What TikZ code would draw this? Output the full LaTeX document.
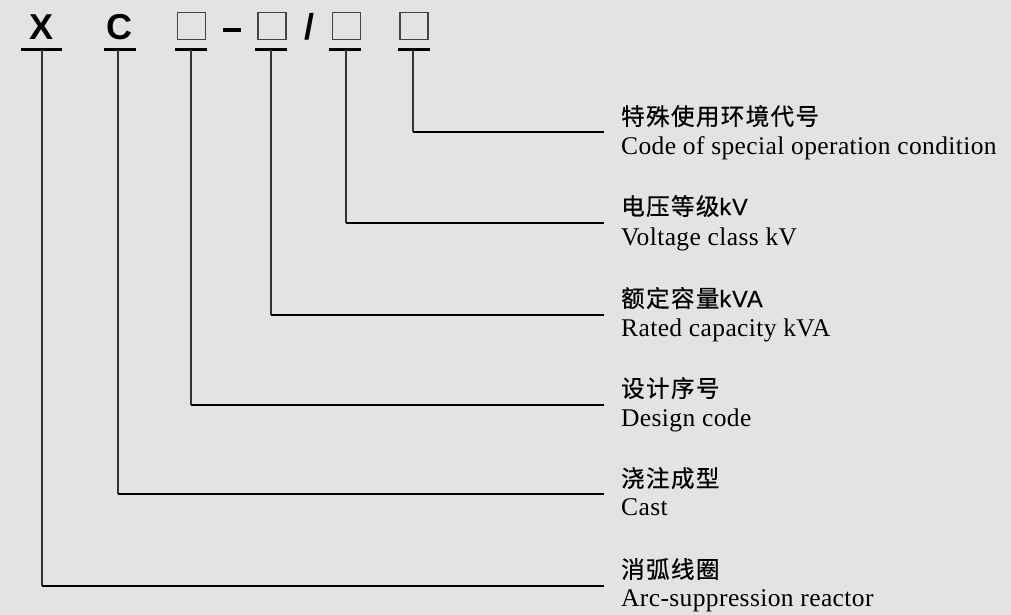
\documentclass[tikz,border=0pt]{standalone}
\usepackage{fontspec}
\setmainfont{Liberation Serif}
\setsansfont{Liberation Sans}
\newfontfamily\cjk[LetterSpace=6,FakeBold=0.6]{Noto Sans CJK SC}
\newfontfamily\cjklatin[LetterSpace=4,FakeBold=0.3]{Liberation Sans}
\newfontfamily\enfont[LetterSpace=1.5]{Liberation Serif}
\definecolor{bg}{HTML}{E3E3E3}
\definecolor{vline}{HTML}{333333}
\definecolor{boxc}{HTML}{444444}
\begin{document}
\begin{tikzpicture}[x=1pt,y=-1pt,
  codeletter/.style={font=\sffamily\bfseries\fontsize{36}{36}\selectfont,inner sep=0pt,anchor=base},
  codebox/.style={draw=boxc,line width=1.4pt,minimum width=28pt,minimum height=27pt,inner sep=0pt},
  uline/.style={line width=3pt,black},
  lead/.style={line width=1.8pt,vline},
  cnlabel/.style={font=\cjk\fontsize{23.5}{23.5}\selectfont,inner sep=0pt,anchor=base west},
  enlabel/.style={font=\enfont\fontsize{25.5}{25.5}\selectfont,inner sep=0pt,anchor=base west}]
\useasboundingbox[fill=bg] (0,0) rectangle (1011,615);
% code elements
\node[codeletter] (cx) at (41.5,40) {X};
\node[codeletter] (cc) at (119,40) {C};
\node[codebox] (b1) at (191.5,26) {};
\node[codebox] (b2) at (272,26) {};
\node[codebox] (b3) at (346.5,26) {};
\node[codebox] (b4) at (414,26) {};
\fill[black] (223,28) rectangle (241,32);
\node[codeletter] (sl) at (309,40) {/};
% underline points
\foreach \n/\a/\b/\m in {ux/21/62/42, uc/104/136/118, u1/175/207/191, u2/255/287/271, u3/329/361/346, u4/398/430/413}{
  \draw[uline] (\a,50) -- (\b,50);
  \coordinate (\n) at (\m,50);
}
% line ends
\foreach \n/\y in {e4/132, e3/223, e2/315, e1/405, ec/494, ex/586}{
  \coordinate (\n) at (604,\y);
}
% labels
\node[cnlabel] (c4) at (621,125) {特殊使用环境代号};
\node[enlabel] (n4) at (621,154) {Code of special operation condition};
\node[cnlabel] (c3) at (621,215) {电压等级\cjklatin kV};
\node[enlabel] (n3) at (621,245) {Voltage class kV};
\node[cnlabel] (c2) at (621,307) {额定容量\cjklatin kVA};
\node[enlabel] (n2) at (621,336) {Rated capacity kVA};
\node[cnlabel] (c1) at (621,397) {设计序号};
\node[enlabel] (n1) at (621,426) {Design code};
\node[cnlabel] (cC) at (621,487) {浇注成型};
\node[enlabel] (nC) at (621,515) {Cast};
\node[cnlabel] (cX) at (621,578) {消弧线圈};
\node[enlabel] (nX) at (621,606) {Arc-suppression reactor};
% leaders
\foreach \u/\e in {u4/e4, u3/e3, u2/e2, u1/e1, uc/ec, ux/ex}{
  \draw[lead] (\u) -- (\u |- \e);
  \draw[line width=2.4pt,black] (\u |- \e) -- (\e);
}
\end{tikzpicture}
\end{document}
